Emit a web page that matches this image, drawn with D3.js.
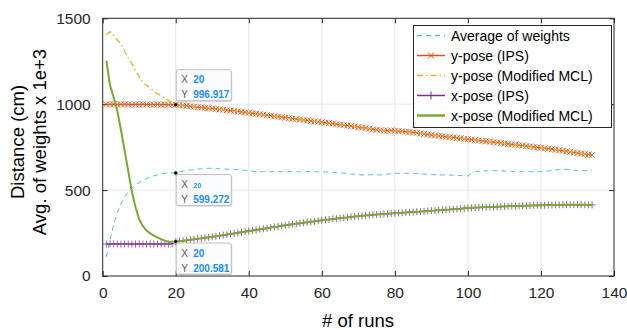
<!DOCTYPE html>
<html>
<head>
<meta charset="utf-8">
<script src="https://cdn.jsdelivr.net/npm/d3@7"></script>
<style>
  body { margin: 0; background: #fff; }
  text { font-family: "Liberation Sans", Arial, sans-serif; }
</style>
</head>
<body>
<svg width="627" height="330"></svg>
<script>
// Runs 1..134
const runs = d3.range(1, 135);

const avgWeights = [
  112, 210, 300, 370, 420, 460, 490, 512, 530, 545,
  557, 567, 576, 583, 589, 594, 598, 600, 600, 599.272,
  605, 610, 614, 617, 620, 622, 624, 626, 627, 626,
  625, 624, 623, 622, 621, 620, 619, 617, 615, 612,
  610, 608, 607, 607, 608, 607, 606, 607, 607, 606,
  607, 608, 607, 606, 607, 608, 607, 607, 606, 607,
  606, 605, 604, 602, 601, 599, 597, 594, 591, 589,
  588, 588, 589, 590, 589, 588, 590, 593, 596, 598,
  598, 599, 598, 598, 598, 597, 595, 593, 591, 590,
  589, 588, 588, 588, 588, 587, 586, 585, 583, 582,
  600, 607, 609, 611, 612, 613, 613, 613, 612, 611,
  610, 609, 609, 608, 608, 607, 607, 607, 607, 607,
  609, 611, 614, 617, 620, 621, 620, 618, 616, 615,
  614, 613, 613, 613
];

const yPoseIPS = [
  1000, 999, 1000, 998, 999, 1000, 999, 998, 999, 998,
  999, 998, 998, 997, 998, 997, 998, 997, 997, 996.917,
  995, 993, 991, 988, 986, 983, 981, 979, 977, 975,
  972, 970, 968, 965, 963, 960, 958, 955, 953, 950,
  947, 945, 942, 939, 936, 933, 930, 928, 925, 922,
  919, 916, 914, 911, 908, 906, 903, 900, 898, 895,
  892, 890, 887, 884, 881, 879, 876, 873, 870, 867,
  864, 861, 858, 854, 851, 848, 846, 846, 847, 845,
  843, 842, 840, 838, 836, 833, 830, 827, 824, 821,
  818, 816, 813, 811, 808, 806, 803, 801, 798, 796,
  794, 791, 789, 786, 784, 782, 779, 777, 774, 771,
  769, 766, 764, 761, 759, 756, 754, 751, 749, 747,
  744, 741, 738, 735, 732, 729, 726, 722, 719, 716,
  713, 710, 707, 704
];

// Modified MCL y-pose: first 20 runs, afterwards it follows the IPS curve
const yPoseMCLHead = [
  1405, 1422, 1400, 1375, 1350, 1310, 1270, 1235, 1195, 1160,
  1125, 1110, 1095, 1075, 1062, 1050, 1035, 1022, 1008, 996.917
];

const xPoseIPS = [
  186, 186, 187, 186, 186, 187, 186, 186, 186, 187,
  186, 186, 187, 186, 186, 186, 187, 186, 187, 200.581,
  203, 205, 208, 211, 214, 217, 219, 222, 225, 228,
  231, 234, 238, 241, 245, 248, 251, 255, 258, 262,
  265, 268, 272, 275, 278, 282, 285, 288, 292, 295,
  298, 301, 304, 307, 310, 313, 316, 318, 321, 324,
  327, 329, 332, 334, 337, 339, 341, 344, 346, 348,
  350, 352, 354, 356, 358, 359, 361, 362, 364, 366,
  367, 368, 370, 371, 372, 374, 375, 376, 378, 380,
  381, 383, 384, 386, 387, 389, 390, 392, 394, 396,
  397, 398, 399, 400, 401, 401, 402, 403, 404, 405,
  406, 407, 407, 408, 409, 409, 410, 411, 411, 412,
  412, 413, 413, 414, 414, 415, 415, 415, 415, 415,
  415, 415, 414, 414
];

// Modified MCL x-pose: first 20 runs, afterwards it follows the IPS curve
const xPoseMCLHead = [
  1253, 1110, 1040, 960, 850, 730, 610, 490, 400, 330,
  290, 265, 248, 235, 225, 215, 206, 199, 197, 200.581
];

const xTicks = [0, 20, 40, 60, 80, 100, 120, 140];
const yTicks = [0, 500, 1000, 1500];

const dataTips = [
  { x: 20, y: 996.917, label: "996.917", place: "above", small: false },
  { x: 20, y: 599.272, label: "599.272", place: "below", small: true },
  { x: 20, y: 200.581, label: "200.581", place: "below", small: false }
];

const yPoseMCL = yPoseMCLHead.concat(yPoseIPS.slice(20));
const xPoseMCL = xPoseMCLHead.concat(xPoseIPS.slice(20));

const series = [
  { name: "Average of weights", values: avgWeights, color: "#4DBEEE", width: 1, dash: "5,4", marker: null },
  { name: "y-pose (IPS)", values: yPoseIPS, color: "#D95319", width: 1, dash: null, marker: "x" },
  { name: "y-pose (Modified MCL)", values: yPoseMCL, color: "#EDB120", width: 1.3, dash: "6,3,1.5,3", marker: null },
  { name: "x-pose (IPS)", values: xPoseIPS, color: "#7E2F8E", width: 1, dash: null, marker: "+" },
  { name: "x-pose (Modified MCL)", values: xPoseMCL, color: "#77AC30", width: 2, dash: null, marker: null }
];

// Plot sizes
const L = 102.7, R = 614, T = 18.3, B = 276;

const svg = d3.select("svg");

const xScale = d3.scaleLinear().domain([0, 140]).range([L, R]);
const yScale = d3.scaleLinear().domain([0, 1500]).range([B, T]);

// grid
svg.append("g")
  .selectAll("line")
  .data(xTicks.slice(1, -1))
  .enter().append("line")
    .attr("x1", d => xScale(d)).attr("x2", d => xScale(d))
    .attr("y1", T).attr("y2", B)
    .attr("stroke", "#e6e6e6");

svg.append("g")
  .selectAll("line")
  .data(yTicks.slice(1, -1))
  .enter().append("line")
    .attr("x1", L).attr("x2", R)
    .attr("y1", d => yScale(d)).attr("y2", d => yScale(d))
    .attr("stroke", "#e6e6e6");

// axes (ticks inside, box on)
const axisStyle = g => {
  g.select(".domain").remove();
  g.selectAll(".tick line").attr("stroke", "#262626");
  g.selectAll(".tick text")
    .attr("fill", "#262626")
    .style("font-size", "15.5px")
    .style("font-family", "'Liberation Sans', Arial, sans-serif");
};

const fmt = d3.format("d");

svg.append("g")
  .attr("transform", `translate(0, ${B})`)
  .call(d3.axisBottom(xScale).tickValues(xTicks).tickSize(-5).tickPadding(11).tickFormat(fmt))
  .call(axisStyle);

svg.append("g")
  .attr("transform", `translate(0, ${T})`)
  .call(d3.axisTop(xScale).tickValues(xTicks).tickSize(-5).tickFormat(""))
  .call(axisStyle);

svg.append("g")
  .attr("transform", `translate(${L}, 0)`)
  .call(d3.axisLeft(yScale).tickValues(yTicks).tickSize(-5).tickPadding(12).tickFormat(fmt))
  .call(axisStyle);

svg.append("g")
  .attr("transform", `translate(${R}, 0)`)
  .call(d3.axisRight(yScale).tickValues(yTicks).tickSize(-5).tickFormat(""))
  .call(axisStyle);

svg.append("rect")
  .attr("x", L).attr("y", T)
  .attr("width", R - L).attr("height", B - T)
  .attr("fill", "none")
  .attr("stroke", "#262626");

// Render data
const line = d3.line()
  .x((d, i) => xScale(runs[i]))
  .y(d => yScale(d));

const plot = svg.append("g");

function drawMarkers(g, s) {
  const m = 3;
  const path = s.marker === "x"
    ? `M${-m},${-m}L${m},${m}M${-m},${m}L${m},${-m}`
    : `M${-m - 0.5},0L${m + 0.5},0M0,${-m - 0.5}L0,${m + 0.5}`;
  g.selectAll("path.mk")
    .data(s.values)
    .enter().append("path")
      .attr("class", "mk")
      .attr("transform", (d, i) => `translate(${xScale(runs[i])}, ${yScale(d)})`)
      .attr("d", path)
      .attr("stroke", s.color)
      .attr("stroke-width", 1)
      .attr("opacity", s.marker === "+" ? 0.75 : 0.9);
}

series.forEach(s => {
  const g = plot.append("g");
  g.append("path")
    .datum(s.values)
    .attr("d", line)
    .attr("fill", "none")
    .attr("stroke", s.color)
    .attr("stroke-width", s.width)
    .attr("stroke-dasharray", s.dash);
  if (s.marker) drawMarkers(g, s);
});

// data tips
dataTips.forEach(t => {
  const px = xScale(t.x), py = yScale(t.y);
  const bw = 55, bh = 31;
  const bx = px + 0.5;
  const by = t.place === "above" ? py - 35 : py + 1.5;
  const g = svg.append("g");
  g.append("rect")
    .attr("x", bx + 1).attr("y", by + 1)
    .attr("width", bw).attr("height", bh)
    .attr("rx", 2)
    .attr("fill", "#d0d0d0");
  g.append("rect")
    .attr("x", bx).attr("y", by)
    .attr("width", bw).attr("height", bh)
    .attr("rx", 2)
    .attr("fill", "#fbfcfe")
    .attr("stroke", "#bfbfbf");
  g.append("text").attr("x", bx + 5).attr("y", by + 13.5)
    .style("font-size", "10px").attr("fill", "#595959").text("X");
  g.append("text").attr("x", bx + 17).attr("y", by + 13.5)
    .style("font-size", t.small ? "7px" : "10px")
    .style("font-weight", "bold").attr("fill", "#1a8cff").text(t.x);
  g.append("text").attr("x", bx + 5).attr("y", by + 28.5)
    .style("font-size", "10px").attr("fill", "#595959").text("Y");
  g.append("text").attr("x", bx + 17).attr("y", by + 28.5)
    .style("font-size", "10px")
    .style("font-weight", "bold").attr("fill", "#1a8cff").text(t.label);
  svg.append("circle")
    .attr("cx", px).attr("cy", py).attr("r", 2)
    .attr("fill", "#000").attr("stroke", "#ffffcc").attr("stroke-width", 0.5);
});

// legend
const lg = svg.append("g");
lg.append("rect")
  .attr("x", 413.5).attr("y", 25.5)
  .attr("width", 198).attr("height", 102)
  .attr("fill", "#fff")
  .attr("stroke", "#262626")
  .attr("stroke-width", 1);

series.forEach((s, i) => {
  const yy = 35.5 + i * 20;
  lg.append("line")
    .attr("x1", 417).attr("x2", 445)
    .attr("y1", yy).attr("y2", yy)
    .attr("stroke", s.color)
    .attr("stroke-width", s.width === 2 ? 2.5 : 1.5)
    .attr("stroke-dasharray", s.dash);
  if (s.marker === "x") {
    lg.append("path").attr("d", `M428,${yy - 3}L434,${yy + 3}M428,${yy + 3}L434,${yy - 3}`)
      .attr("stroke", s.color);
  } else if (s.marker === "+") {
    lg.append("path").attr("d", `M427,${yy}L435,${yy}M431,${yy - 4}L431,${yy + 4}`)
      .attr("stroke", s.color);
  }
  lg.append("text")
    .attr("x", 451).attr("y", yy + 5)
    .style("font-size", "14px")
    .attr("fill", "#000")
    .text(s.name);
});

// labels
svg.append("text")
  .attr("x", 358).attr("y", 327)
  .attr("text-anchor", "middle")
  .style("font-size", "18.5px")
  .attr("fill", "#000")
  .text("# of runs");

svg.append("text")
  .attr("transform", "translate(24, 142) rotate(-90)")
  .attr("text-anchor", "middle")
  .style("font-size", "18.5px")
  .attr("fill", "#000")
  .text("Distance (cm)");

svg.append("text")
  .attr("transform", "translate(46, 142) rotate(-90)")
  .attr("text-anchor", "middle")
  .style("font-size", "18.5px")
  .attr("fill", "#000")
  .text("Avg. of weights x 1e+3");
</script>
</body>
</html>
